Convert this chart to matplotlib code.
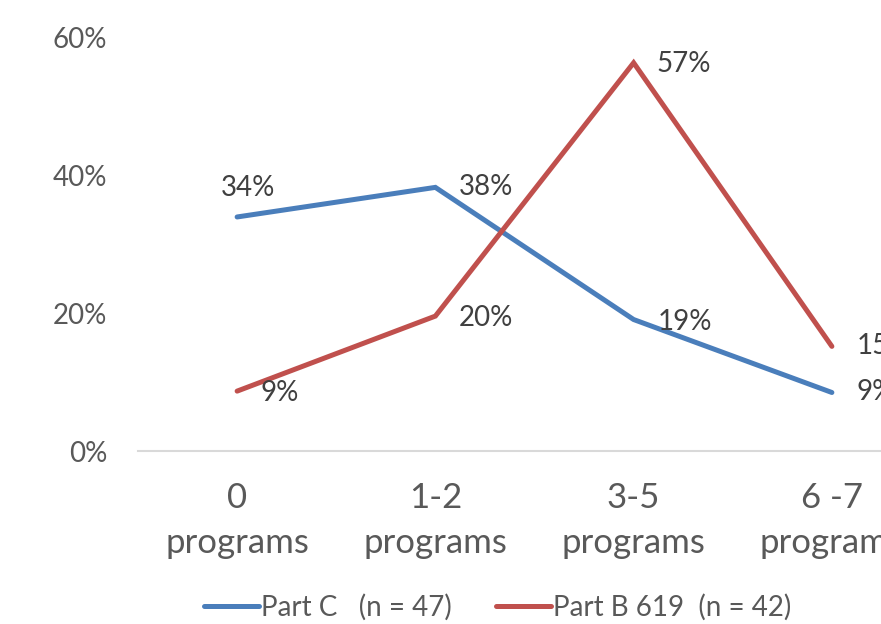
import numpy as np
import matplotlib
matplotlib.use("Agg")
import matplotlib.pyplot as plt
from matplotlib.ticker import PercentFormatter

plt.rcParams["font.family"] = ["Lato", "DejaVu Sans"]

categories = ["0\nprograms", "1-2\nprograms", "3-5\nprograms", "6 -7\nprograms"]
part_c = [0.34, 0.383, 0.191, 0.085]
part_b = [0.087, 0.196, 0.564, 0.152]
labels_c = ["34%", "38%", "19%", "9%"]
labels_b = ["9%", "20%", "57%", "15%"]
series_names = ["Part C   (n = 47)", "Part B 619  (n = 42)"]

blue = "#4A7EBB"
red = "#C0504D"
txt = "#595959"
lbl = "#404040"

fig = plt.figure(figsize=(8.81, 6.24), dpi=100)
# axes run past the right edge, as in the cropped original
ax = fig.add_axes([138 / 881, 173 / 624, 793 / 881, 413 / 624])

x = np.arange(len(categories))
l1, = ax.plot(x, part_c, color=blue, lw=3.6, solid_capstyle="round",
              solid_joinstyle="miter", label=series_names[0])
l2, = ax.plot(x, part_b, color=red, lw=3.6, solid_capstyle="round",
              solid_joinstyle="miter", label=series_names[1])

# data labels (pixel offsets)
off_c = [(11, 29), (23, 0), (24, -2), (25, 0)]
off_b = [(23, -2), (23, -2), (23, -1), (25, 0)]
for i, (xi, v, t, o) in enumerate(zip(x, part_c, labels_c, off_c)):
    ha = "center" if i == 0 else "left"
    ax.annotate(t, (xi, v), xytext=o, textcoords="offset pixels",
                ha=ha, va="center", fontsize=20, color=lbl, annotation_clip=False)
for xi, v, t, o in zip(x, part_b, labels_b, off_b):
    ax.annotate(t, (xi, v), xytext=o, textcoords="offset pixels",
                ha="left", va="center", fontsize=20, color=lbl, annotation_clip=False)

ax.set_xlim(-0.5, 3.5)
ax.set_ylim(0, 0.6)
ax.set_yticks([0, 0.2, 0.4, 0.6])
ax.yaxis.set_major_formatter(PercentFormatter(1.0, decimals=0))
ax.set_xticks(x)
ax.set_xticklabels(categories, fontsize=25, color=txt, linespacing=1.5)
ax.tick_params(axis="y", labelsize=20, labelcolor=txt, length=0, pad=22)
ax.tick_params(axis="x", length=0, pad=22)

for s in ["top", "right", "left"]:
    ax.spines[s].set_visible(False)
ax.spines["bottom"].set_color("#D9D9D9")
ax.spines["bottom"].set_linewidth(1.5)

fig.legend(handles=[l1, l2], loc="center", bbox_to_anchor=(498 / 881, 1 - 607 / 624),
           ncol=2, frameon=False, fontsize=20, handlelength=1.95,
           handletextpad=0.1, columnspacing=1.6, labelcolor=txt)

fig.savefig("out.png", dpi=100)
